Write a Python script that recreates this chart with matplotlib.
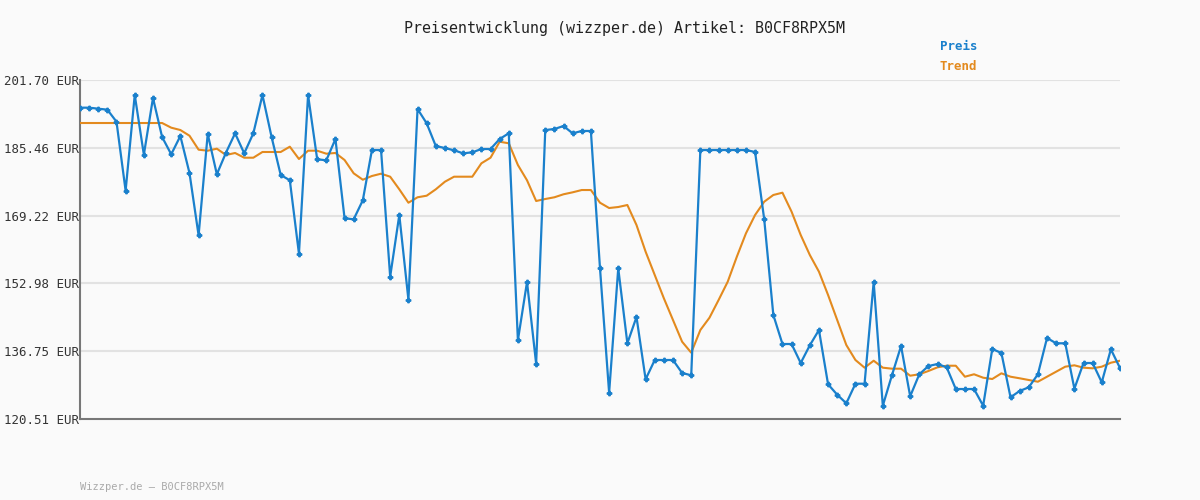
import matplotlib
matplotlib.use("Agg")
import matplotlib.pyplot as plt

title = "Preisentwicklung (wizzper.de) Artikel: B0CF8RPX5M"
footer = "Wizzper.de – B0CF8RPX5M"
yticks = [120.51, 136.75, 152.98, 169.22, 185.46, 201.70]

preis = [195.07, 195.07, 194.83, 194.59, 191.71, 175.19, 198.11, 183.81, 197.39, 188.05,
         183.90, 188.29, 179.43, 164.51, 188.77, 179.12, 184.29, 188.93, 184.14, 188.93,
         198.11, 188.05, 178.95, 177.68, 160.10, 198.11, 182.71, 182.47, 187.57, 168.58,
         168.34, 172.89, 184.93, 184.93, 154.59, 169.37, 149.08, 194.75, 191.33, 185.89,
         185.41, 184.86, 184.14, 184.38, 185.17, 185.17, 187.57, 188.93, 139.36, 153.32,
         133.75, 189.72, 189.96, 190.68, 188.93, 189.49, 189.49, 156.60, 126.81, 156.60,
         138.64, 144.94, 130.02, 134.64, 134.64, 134.64, 131.53, 130.98, 184.93, 184.93,
         184.93, 184.93, 184.93, 184.93, 184.46, 168.34, 145.42, 138.47, 138.47, 133.92,
         138.16, 141.82, 128.82, 126.33, 124.27, 128.96, 128.96, 153.32, 123.69, 130.98,
         137.99, 125.95, 131.22, 133.20, 133.68, 132.89, 127.69, 127.69, 127.69, 123.69,
         137.27, 136.32, 125.71, 127.22, 128.10, 131.22, 139.91, 138.64, 138.64, 127.77,
         133.92, 133.92, 129.30, 137.20, 132.72]

trend = [191.40] * 10 + [
         190.28, 189.72, 188.36, 185.01, 184.77, 185.25, 183.74, 184.22, 183.09, 183.09,
         184.46, 184.46, 184.46, 185.73, 182.78, 184.77, 184.77, 184.05, 184.22, 182.54,
         179.35, 177.82, 178.71, 179.26, 178.54, 175.52, 172.31, 173.61, 173.99, 175.52,
         177.34, 178.54, 178.54, 178.54, 181.75, 183.09, 186.92, 186.54, 181.34, 177.68,
         172.72, 173.20, 173.61, 174.33, 174.80, 175.35, 175.35, 172.31, 171.04, 171.28,
         171.76, 166.97, 160.58, 155.00, 149.42, 144.22, 139.02, 136.39, 141.82, 144.77,
         149.01, 153.39, 159.38, 164.98, 169.37, 172.55, 174.16, 174.71, 170.16, 164.58,
         159.79, 155.79, 150.21, 144.22, 138.23, 134.64, 132.80, 134.47, 132.80, 132.56,
         132.56, 130.88, 131.22, 132.01, 132.89, 133.27, 133.27, 130.64, 131.22, 130.40,
         130.09, 131.45, 130.64, 130.26, 129.85, 129.44, 130.64, 131.84, 133.04, 133.37,
         132.80, 132.65, 133.04, 133.99, 134.47]

x = list(range(len(preis)))
mono = "DejaVu Sans Mono"
blue = "#1a80cc"
orange = "#e38a1e"

fig = plt.figure(figsize=(12, 5), dpi=100, facecolor="#fafafa")
ax = fig.add_axes([80/1200, 1-419/500, 1040/1200, 339/500], facecolor="#fafafa")
ax.plot(x, trend, color=orange, lw=1.5, zorder=3)
ax.plot(x, preis, color=blue, lw=1.6, marker="P", markersize=3.2, zorder=4)
ax.set_xlim(0, len(preis) - 1)
ax.set_ylim(yticks[0], yticks[-1])
ax.set_yticks(yticks)
ax.set_yticklabels([f"{v:.2f} EUR" for v in yticks], family=mono, fontsize=9, color="#333333")
ax.set_xticks([])
ax.tick_params(axis="y", length=0, pad=1)
for v in yticks[1:]:
    ax.axhline(v, color="#e2e2e2", lw=1.5, zorder=1)
for s in ["top", "right"]:
    ax.spines[s].set_visible(False)
ax.spines["left"].set_color("#777777")
ax.spines["bottom"].set_color("#777777")
ax.spines["left"].set_linewidth(1.5)
ax.spines["bottom"].set_linewidth(1.5)

fig.text(624/1200, 1-28/500, title, family=mono, fontsize=10.8, ha="center", va="center", color="#222222")
fig.text(940/1200, 1-47/500, "Preis", family=mono, fontsize=9, weight="bold", color=blue, va="center")
fig.text(940/1200, 1-67/500, "Trend", family=mono, fontsize=9, weight="bold", color=orange, va="center")
fig.text(80/1200, 1-487/500, footer, family=mono, fontsize=7.5, color="#aaaaaa", va="center")

fig.savefig("out.png", dpi=100, facecolor=fig.get_facecolor())
